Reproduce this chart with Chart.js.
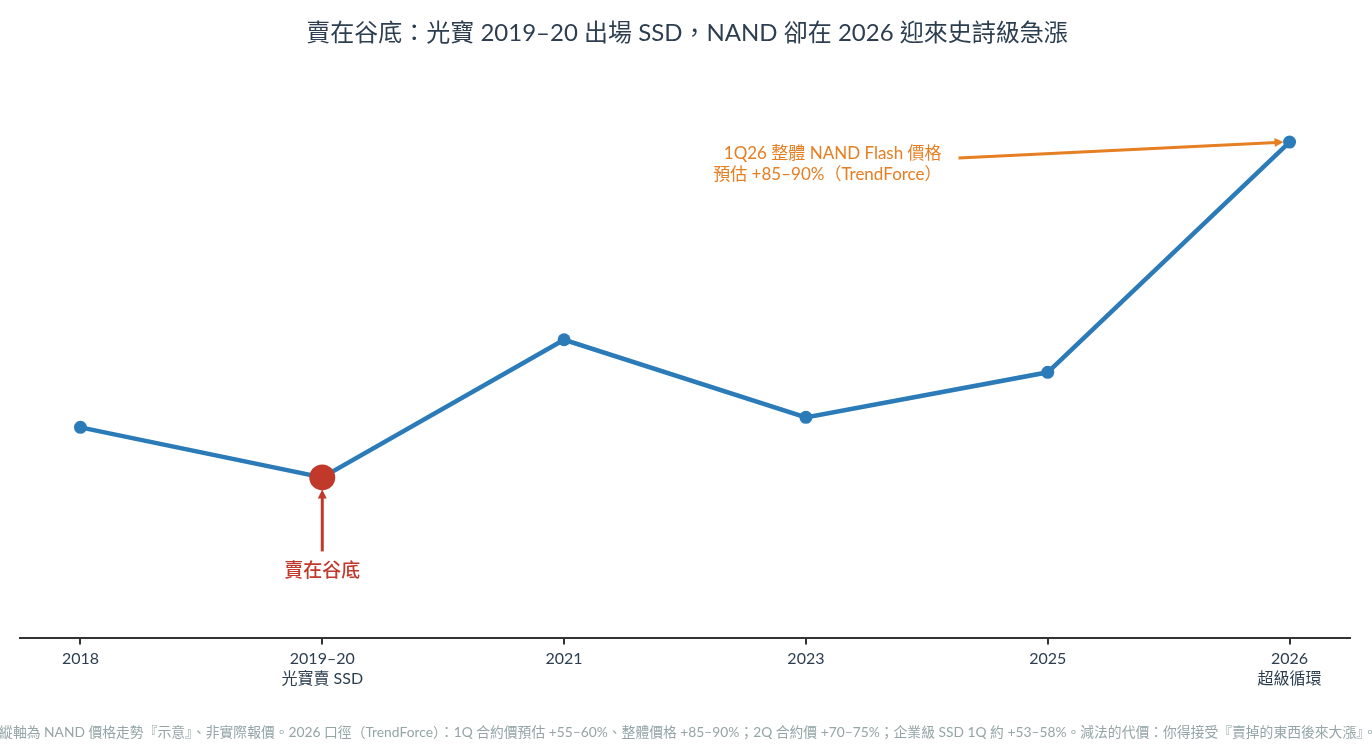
<!DOCTYPE html>
<html>
<head>
<meta charset="utf-8">
<script src="https://cdn.jsdelivr.net/npm/chart.js@4"></script>
<style>
  html, body { margin: 0; padding: 0; background: #fff; }
  #wrap { width: 1372px; height: 756px; }
</style>
</head>
<body>
<div id="wrap"><canvas id="myChart"></canvas></div>
<script>
// datos del grafico (escala solo ilustrativa)
const categories = ["2018", "2019–20", "2021", "2023", "2025", "2026"];
const subLabels = ["", "光寶賣 SSD", "", "", "", "超級循環"];
const priceIndex = [42, 32, 59.5, 44, 53, 99];
const lowIndex = 1;   // punto "賣在谷底"
const peakIndex = 5;  // punto 2026

const titleText = "賣在谷底：光寶 2019–20 出場 SSD，NAND 卻在 2026 迎來史詩級急漲";
const lowLabel = "賣在谷底";
const peakLabel = ["1Q26 整體 NAND Flash 價格", "預估 +85–90%（TrendForce）"];
const footNote = "縱軸為 NAND 價格走勢『示意』、非實際報價。2026 口徑（TrendForce）：1Q 合約價預估 +55–60%、整體價格 +85–90%；2Q 合約價 +70–75%；企業級 SSD 1Q 約 +53–58%。減法的代價：你得接受『賣掉的東西後來大漲』。";

const FONT = "'Lato', 'Noto Sans CJK TC', sans-serif";
const BLUE = "#2b7bb9";
const RED = "#c0392b";
const ORANGE = "#e67e22";

function drawArrow(ctx, x1, y1, x2, y2, color, width) {
    const ang = Math.atan2(y2 - y1, x2 - x1);
    const head = 9;
    ctx.save();
    ctx.strokeStyle = color;
    ctx.fillStyle = color;
    ctx.lineWidth = width;
    ctx.beginPath();
    ctx.moveTo(x1, y1);
    ctx.lineTo(x2 - Math.cos(ang) * head * 0.8, y2 - Math.sin(ang) * head * 0.8);
    ctx.stroke();
    ctx.beginPath();
    ctx.moveTo(x2, y2);
    ctx.lineTo(x2 - head * Math.cos(ang) + 4.5 * Math.sin(ang), y2 - head * Math.sin(ang) - 4.5 * Math.cos(ang));
    ctx.lineTo(x2 - head * Math.cos(ang) - 4.5 * Math.sin(ang), y2 - head * Math.sin(ang) + 4.5 * Math.cos(ang));
    ctx.closePath();
    ctx.fill();
    ctx.restore();
}

// plugin para titulo, anotaciones y nota al pie
const annotations = {
    id: "annotations",
    afterDatasetsDraw(chart) {
        const ctx = chart.ctx;
        const xs = chart.scales.x;
        const ys = chart.scales.y;
        const W = chart.width;

        ctx.save();
        // titulo
        ctx.fillStyle = "#2c3e50";
        ctx.font = "24px " + FONT;
        ctx.textAlign = "center";
        ctx.textBaseline = "middle";
        ctx.fillText(titleText, W / 2 + 1, 33);

        // punto bajo
        const lx = xs.getPixelForValue(lowIndex);
        const ly = ys.getPixelForValue(priceIndex[lowIndex]);
        drawArrow(ctx, lx, ly + 74, lx, ly + 12, RED, 3);
        ctx.fillStyle = RED;
        ctx.font = "500 19px " + FONT;
        ctx.fillText(lowLabel, lx, ly + 93);

        // punto 2026
        const px = xs.getPixelForValue(peakIndex);
        const py = ys.getPixelForValue(priceIndex[peakIndex]);
        drawArrow(ctx, px - 331, py + 16, px - 6, py, ORANGE, 3);
        ctx.fillStyle = ORANGE;
        ctx.font = "17px " + FONT;
        ctx.textAlign = "right";
        ctx.fillText(peakLabel[0], px - 348, py + 11);
        ctx.fillText(peakLabel[1], px - 348, py + 32);

        // nota
        ctx.fillStyle = "#95a5a6";
        ctx.font = "13.8px " + FONT;
        ctx.textAlign = "center";
        ctx.fillText(footNote, W / 2 + 2, 733);
        ctx.restore();
    }
};

const pointRadius = priceIndex.map((v, i) => i === lowIndex ? 13 : 6.5);
const pointColors = priceIndex.map((v, i) => i === lowIndex ? RED : BLUE);

const config = {
    type: "line",
    data: {
        datasets: [{
            data: priceIndex.map((v, i) => ({ x: i, y: v })),
            borderColor: BLUE,
            borderWidth: 4.5,
            pointRadius: pointRadius,
            pointBackgroundColor: pointColors,
            pointBorderColor: pointColors,
            pointBorderWidth: 0,
            tension: 0
        }]
    },
    options: {
        responsive: true,
        maintainAspectRatio: false,
        animation: false,
        layout: { padding: { left: 20, right: 22, top: 87, bottom: 63 } },
        plugins: { legend: { display: false }, tooltip: { enabled: false } },
        scales: {
            x: {
                type: "linear",
                min: -0.25,
                max: categories.length - 0.75,
                afterBuildTicks: (axis) => { axis.ticks = categories.map((c, i) => ({ value: i })); },
                ticks: {
                    autoSkip: false,
                    maxRotation: 0,
                    padding: 5,
                    color: "#2c3e50",
                    font: { family: FONT, size: 16 },
                    callback: (v) => subLabels[v] ? [categories[v], subLabels[v]] : categories[v]
                },
                grid: { display: true, drawOnChartArea: false, drawTicks: true, tickLength: 7, color: "#333", lineWidth: 2 },
                border: { display: true, color: "#333", width: 2 }
            },
            y: {
                display: false,
                min: 0,
                max: 110
            }
        }
    },
    plugins: [annotations]
};

new Chart(document.getElementById("myChart"), config);
</script>
</body>
</html>
